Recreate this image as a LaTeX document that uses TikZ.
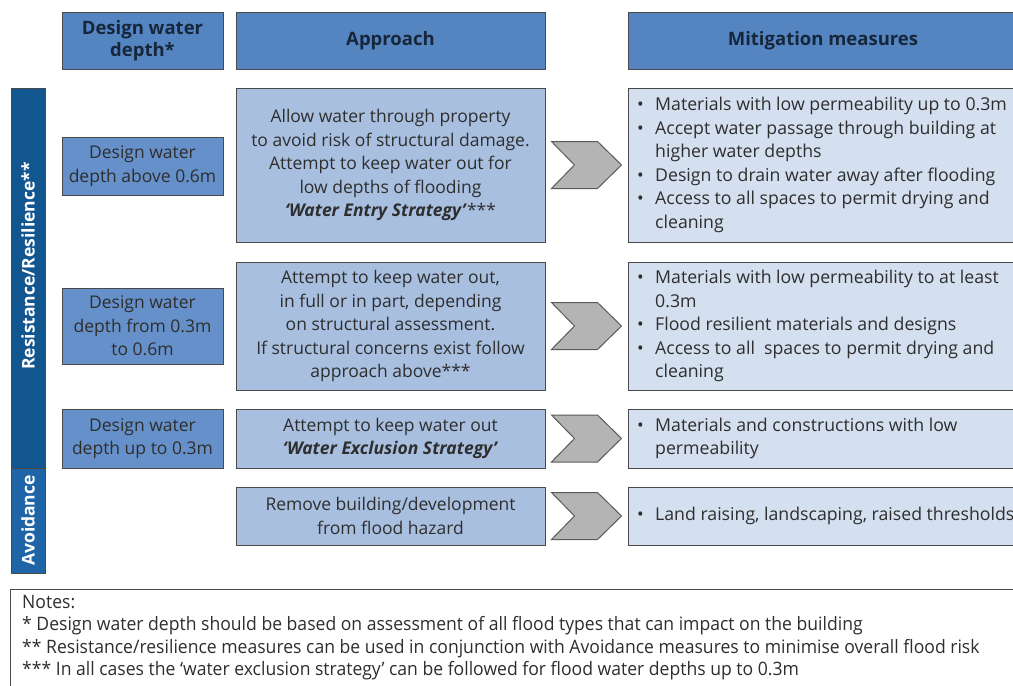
\documentclass[tikz,border=0pt]{standalone}
\usepackage{fontspec}
\setmainfont{Open Sans}
\newfontfamily\notesfont[FakeStretch=0.95]{Open Sans}
\usetikzlibrary{calc}
\definecolor{hdrblue}{HTML}{5485C1}
\definecolor{depthblue}{HTML}{6690C9}
\definecolor{appblue}{HTML}{A8BFE0}
\definecolor{mitblue}{HTML}{D4E0F0}
\definecolor{resblue}{HTML}{12568F}
\definecolor{avoblue}{HTML}{1E64A6}
\definecolor{edge}{HTML}{4A4A4A}
\definecolor{txt}{HTML}{2E2E2E}
\definecolor{hdrtxt}{HTML}{17263A}
\definecolor{chevfill}{HTML}{B4B4B4}
\definecolor{chevedge}{HTML}{5A5A5A}
\tikzset{
  basebox/.style={draw=edge, line width=1pt, rectangle, inner sep=0pt, align=center,
    font={\fontsize{17.5}{23.5}\selectfont}, text=txt},
  hdrbox/.style={basebox, fill=hdrblue, text=hdrtxt, font={\fontsize{18.5}{22}\selectfont\bfseries}},
  depthbox/.style={basebox, fill=depthblue, minimum width=161pt},
  appbox/.style={basebox, fill=appblue, minimum width=309pt},
  mitbox/.style={basebox, fill=mitblue, minimum width=390pt},
  sidebar/.style={draw=edge, line width=1pt, rectangle, inner sep=0pt, minimum width=34pt},
  sidetext/.style={rotate=90, text=white, inner sep=0pt, font={\fontsize{17.5}{22}\selectfont\bfseries}},
  mittext/.style={anchor=west, inner sep=0pt, align=left, text=txt,
    font={\fontsize{17.7}{23.5}\selectfont}},
  chevshape/.pic={\draw[fill=chevfill, draw=chevedge, line width=1pt, line join=miter]
      (-35,-23.5) -- (11,-23.5) -- (35,0) -- (11,23.5) -- (-35,23.5) -- (-12,0) -- cycle;}
}
\newcommand{\bul}{\makebox[18pt][l]{•}}
\newcommand{\ind}{\hspace*{18pt}}
\begin{document}
\begin{tikzpicture}[x=1pt, y=-1pt]
\fill[white] (0,0) rectangle (1013,686);
\useasboundingbox (0,0) rectangle (1013,686);
\clip (0,0) rectangle (1013,686);

% headers
\node[hdrbox, minimum width=161pt, minimum height=57pt] (h1) at (142.5,40.5) {Design water\\depth*};
\node[hdrbox, minimum width=309pt, minimum height=57pt] (h2) at (390.5,40.5) {Approach};
\node[hdrbox, minimum width=390pt, minimum height=57pt] (h3) at (823,40.5) {Mitigation measures};

% side bars
\node[sidebar, fill=resblue, minimum height=380pt] (res) at (28,278) {};
\node[sidebar, fill=avoblue, minimum height=105pt] (avo) at (28,520.5) {};
\node[sidetext] (restxt) at (28,266) {Resistance/Resilience**};
\node[sidetext] (avotxt) at (28,520.5) {Avoidance};

% depth boxes
\node[depthbox, minimum height=58pt] (d1) at (142.5,166) {Design water\\depth above 0.6m};
\node[depthbox, minimum height=76pt] (d2) at (142.5,326) {Design water\\depth from 0.3m\\to 0.6m};
\node[depthbox, minimum height=59pt] (d3) at (142.5,438.5) {Design water\\depth up to 0.3m};

% approach boxes
\node[appbox, minimum height=154pt] (a1) at (390.5,165) {Allow water through property\\to avoid risk of structural damage.\\Attempt to keep water out for\\low depths of flooding\\\textbf{\textit{‘Water Entry Strategy’}}***};
\node[appbox, minimum height=128pt] (a2) at (390.5,326) {Attempt to keep water out,\\in full or in part, depending\\on structural assessment.\\If structural concerns exist follow\\approach above***};
\node[appbox, minimum height=59pt] (a3) at (390.5,438.5) {Attempt to keep water out\\\textbf{\textit{‘Water Exclusion Strategy’}}};
\node[appbox, minimum height=58pt] (a4) at (390.5,516) {Remove building/development\\from flood hazard};

% mitigation boxes
\node[mitbox, minimum height=154pt] (m1) at (823,165) {};
\node[mitbox, minimum height=128pt] (m2) at (823,326) {};
\node[mitbox, minimum height=59pt] (m3) at (823,438.5) {};
\node[mitbox, minimum height=58pt] (m4) at (823,516) {};

\node[mittext] (m1t) at (637,165) {\bul Materials with low permeability up to 0.3m\\\bul Accept water passage through building at\\\ind higher water depths\\\bul Design to drain water away after flooding\\\bul Access to all spaces to permit drying and\\\ind cleaning};
\node[mittext] (m2t) at (637,326) {\bul Materials with low permeability to at least\\\ind 0.3m\\\bul Flood resilient materials and designs\\\bul Access to all\ \ spaces to permit drying and\\\ind cleaning};
\node[mittext] (m3t) at (637,438.5) {\bul Materials and constructions with low\\\ind permeability};
\node[mittext] (m4t) at (637,516) {\bul Land raising, landscaping, raised thresholds};

% chevrons
\foreach \i in {1,2,3,4}{
  \coordinate (c\i) at ($(a\i.east)!0.5!(m\i.west)$);
  \pic at (c\i) {chevshape};
}

% notes
\draw[draw=edge, line width=1pt] (10,589) rectangle (1030,700);
\node[anchor=north west, inner sep=0pt, align=left, text=txt,
  font={\notesfont\fontsize{18.5}{22.5}\selectfont}] (notes) at (22,595)
  {Notes:\\* Design water depth should be based on assessment of all flood types that can impact on the building\\** Resistance/resilience measures can be used in conjunction with Avoidance measures to minimise overall flood risk\\*** In all cases the ‘water exclusion strategy’ can be followed for flood water depths up to 0.3m};
\end{tikzpicture}
\end{document}
